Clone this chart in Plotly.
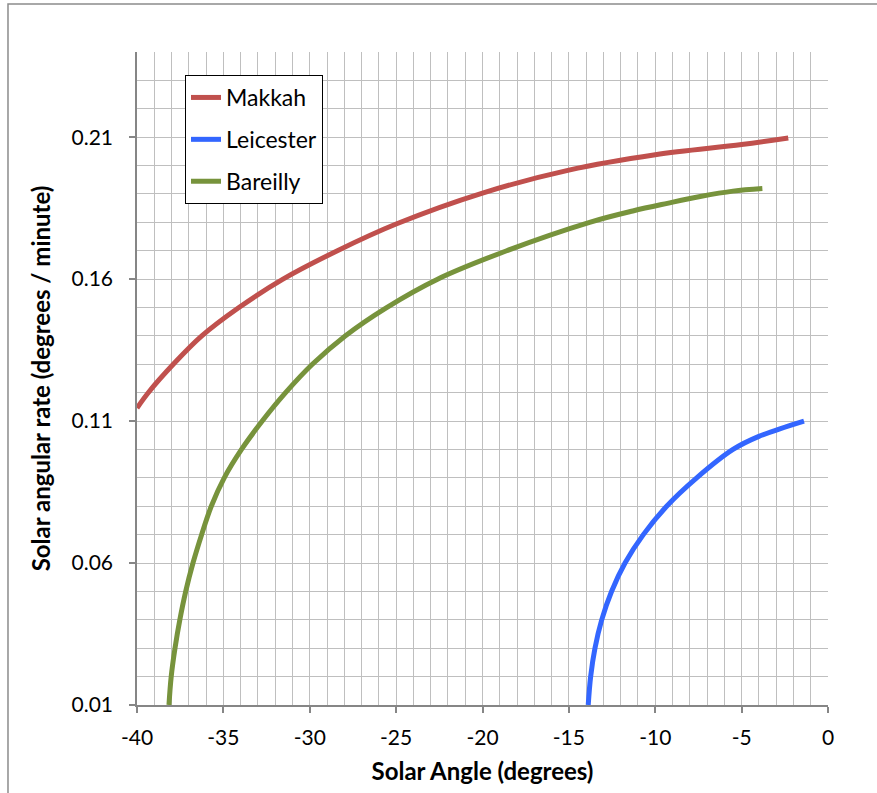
import plotly.graph_objects as go

# Makkah
makkah_x = [-40.0, -39.35, -37.9, -36.25, -34.1, -31.55, -28.4, -25.0, -20.0, -15.0, -10.0, -5.0, -2.3]
makkah_y = [0.1146, 0.12, 0.13, 0.14, 0.15, 0.16, 0.17, 0.1794, 0.1903, 0.1984, 0.2038, 0.2074, 0.2097]

# Leicester
leicester_x = [-13.88, -13.74, -13.49, -13.1, -12.53, -11.75, -10.69, -9.34, -7.6, -5.5, -4.0, -1.39]
leicester_y = [0.01, 0.02, 0.03, 0.04, 0.05, 0.06, 0.07, 0.08, 0.09, 0.10, 0.1046, 0.11]

# Bareilly
bareilly_x = [-38.15, -38.02, -37.8, -37.52, -37.18, -36.76, -36.26, -35.7, -34.95, -33.95, -32.75,
              -31.4, -29.85, -27.95, -25.55, -22.6, -18.6, -13.8, -11.3, -9.3, -7.4, -5.5, -3.8]
bareilly_y = [0.01, 0.02, 0.03, 0.04, 0.05, 0.06, 0.07, 0.08, 0.09, 0.10, 0.11,
              0.12, 0.13, 0.14, 0.15, 0.16, 0.17, 0.18, 0.184, 0.1867, 0.1891, 0.1910, 0.1919]

x_tick_vals = [-40, -35, -30, -25, -20, -15, -10, -5, 0]
x_tick_text = ["-40", "-35", "-30", "-25", "-20", "-15", "-10", "-5", "0"]
y_tick_vals = [0.01, 0.06, 0.11, 0.16, 0.21]
y_tick_text = ["0.01", "0.06", "0.11", "0.16", "0.21"]

FONT = "Lato, 'Open Sans', sans-serif"
GRID = "#BFBFBF"
AXIS = "#868686"

fig = go.Figure()
series = [
    ("Makkah", makkah_x, makkah_y, "#C0504D"),
    ("Leicester", leicester_x, leicester_y, "#3366FF"),
    ("Bareilly", bareilly_x, bareilly_y, "#77933C"),
]
for name, xs, ys, col in series:
    fig.add_trace(go.Scatter(
        x=xs, y=ys, name=name, mode="lines",
        line=dict(color=col, width=5, shape="spline", smoothing=1.0),
        legendgroup=name,
    ))

fig.update_layout(
    width=877, height=793,
    margin=dict(l=137, r=49, t=52, b=88),
    paper_bgcolor="white", plot_bgcolor="white",
    font=dict(family=FONT, size=21, color="black"),
    showlegend=True,
    legend=dict(
        x=0.0695, y=0.9648, xanchor="left", yanchor="top",
        bgcolor="white", bordercolor="black", borderwidth=1,
        font=dict(family=FONT, size=23, color="black"),
        tracegroupgap=9, traceorder="grouped",
    ),
    xaxis=dict(
        range=[-40, 0], tickvals=x_tick_vals, ticktext=x_tick_text,
        showgrid=True, gridcolor=GRID, gridwidth=1,
        minor=dict(dtick=1, tick0=0, showgrid=True, gridcolor=GRID, gridwidth=1),
        showline=True, linecolor=AXIS, linewidth=1.5,
        ticks="outside", ticklen=6, tickcolor=AXIS, tickwidth=1.5,
        ticklabelstandoff=7,
        zeroline=False,
        title=dict(text="<b>Solar Angle (degrees)</b>", font=dict(family=FONT, size=24), standoff=15),
        tickfont=dict(family=FONT, size=21),
    ),
    yaxis=dict(
        range=[0.01, 0.24], tickvals=y_tick_vals, ticktext=y_tick_text,
        showgrid=True, gridcolor=GRID, gridwidth=1,
        minor=dict(dtick=0.01, tick0=0.01, showgrid=True, gridcolor=GRID, gridwidth=1),
        showline=True, linecolor=AXIS, linewidth=1.5,
        ticks="outside", ticklen=6, tickcolor=AXIS, tickwidth=1.5,
        ticklabelstandoff=12,
        zeroline=False,
        title=dict(text="<b>Solar angular rate (degrees / minute)</b>", font=dict(family=FONT, size=24), standoff=14),
        tickfont=dict(family=FONT, size=21),
    ),
    shapes=[dict(
        type="rect", xref="paper", yref="paper",
        x0=-0.1867, x1=1.2, y0=-0.2, y1=1.0735,
        line=dict(color="#8C8C8C", width=1.5), fillcolor="rgba(0,0,0,0)", layer="above",
    )],
)

fig.write_html("out.html", config={"displayModeBar": False},
               post_script="document.body.style.margin='0px';document.body.style.overflow='hidden';")
